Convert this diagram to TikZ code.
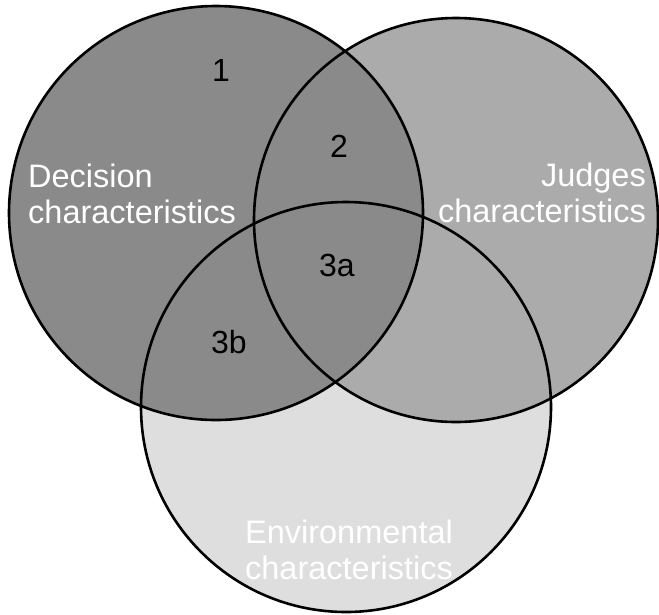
\documentclass[tikz,border=0pt]{standalone}
\usepackage{fontspec}
\setmainfont{Liberation Sans}
\definecolor{decgray}{HTML}{8A8A8A}
\definecolor{judgray}{HTML}{ABABAB}
\definecolor{envgray}{HTML}{DEDEDE}
\tikzset{
  ring/.style={draw=black, line width=2.6pt},
  biglabel/.style={text=white, font=\fontsize{32.5}{36}\selectfont, inner sep=0pt},
  numlabel/.style={text=black, font=\fontsize{32}{36}\selectfont, inner sep=0pt}
}
\begin{document}
\begin{tikzpicture}[x=1pt,y=-1pt]
\useasboundingbox (0,0) rectangle (659,614);
% fills
\fill[envgray] (346,407) circle[radius=205];
\fill[judgray] (456,220) circle[radius=202];
\fill[decgray] (216,213) circle[radius=207];
% outlines
\node[ring, circle, minimum size=410pt, inner sep=0pt] (env) at (346,407) {};
\node[ring, circle, minimum size=404pt, inner sep=0pt] (jud) at (456,220) {};
\node[ring, circle, minimum size=414pt, inner sep=0pt] (dec) at (216,213) {};
% labels
\node[biglabel, anchor=west, align=left] (declab) at (28,194) {Decision\\characteristics};
\node[biglabel, anchor=east, align=right] (judlab) at (646,193) {Judges\\characteristics};
\node[biglabel, align=center] (envlab) at (349,550) {Environmental\\characteristics};
\node[numlabel] (n1) at (221,70) {1};
\node[numlabel] (n2) at (339,146) {2};
\node[numlabel] (n3a) at (337,265) {3a};
\node[numlabel] (n3b) at (229,342) {3b};
\end{tikzpicture}
\end{document}
